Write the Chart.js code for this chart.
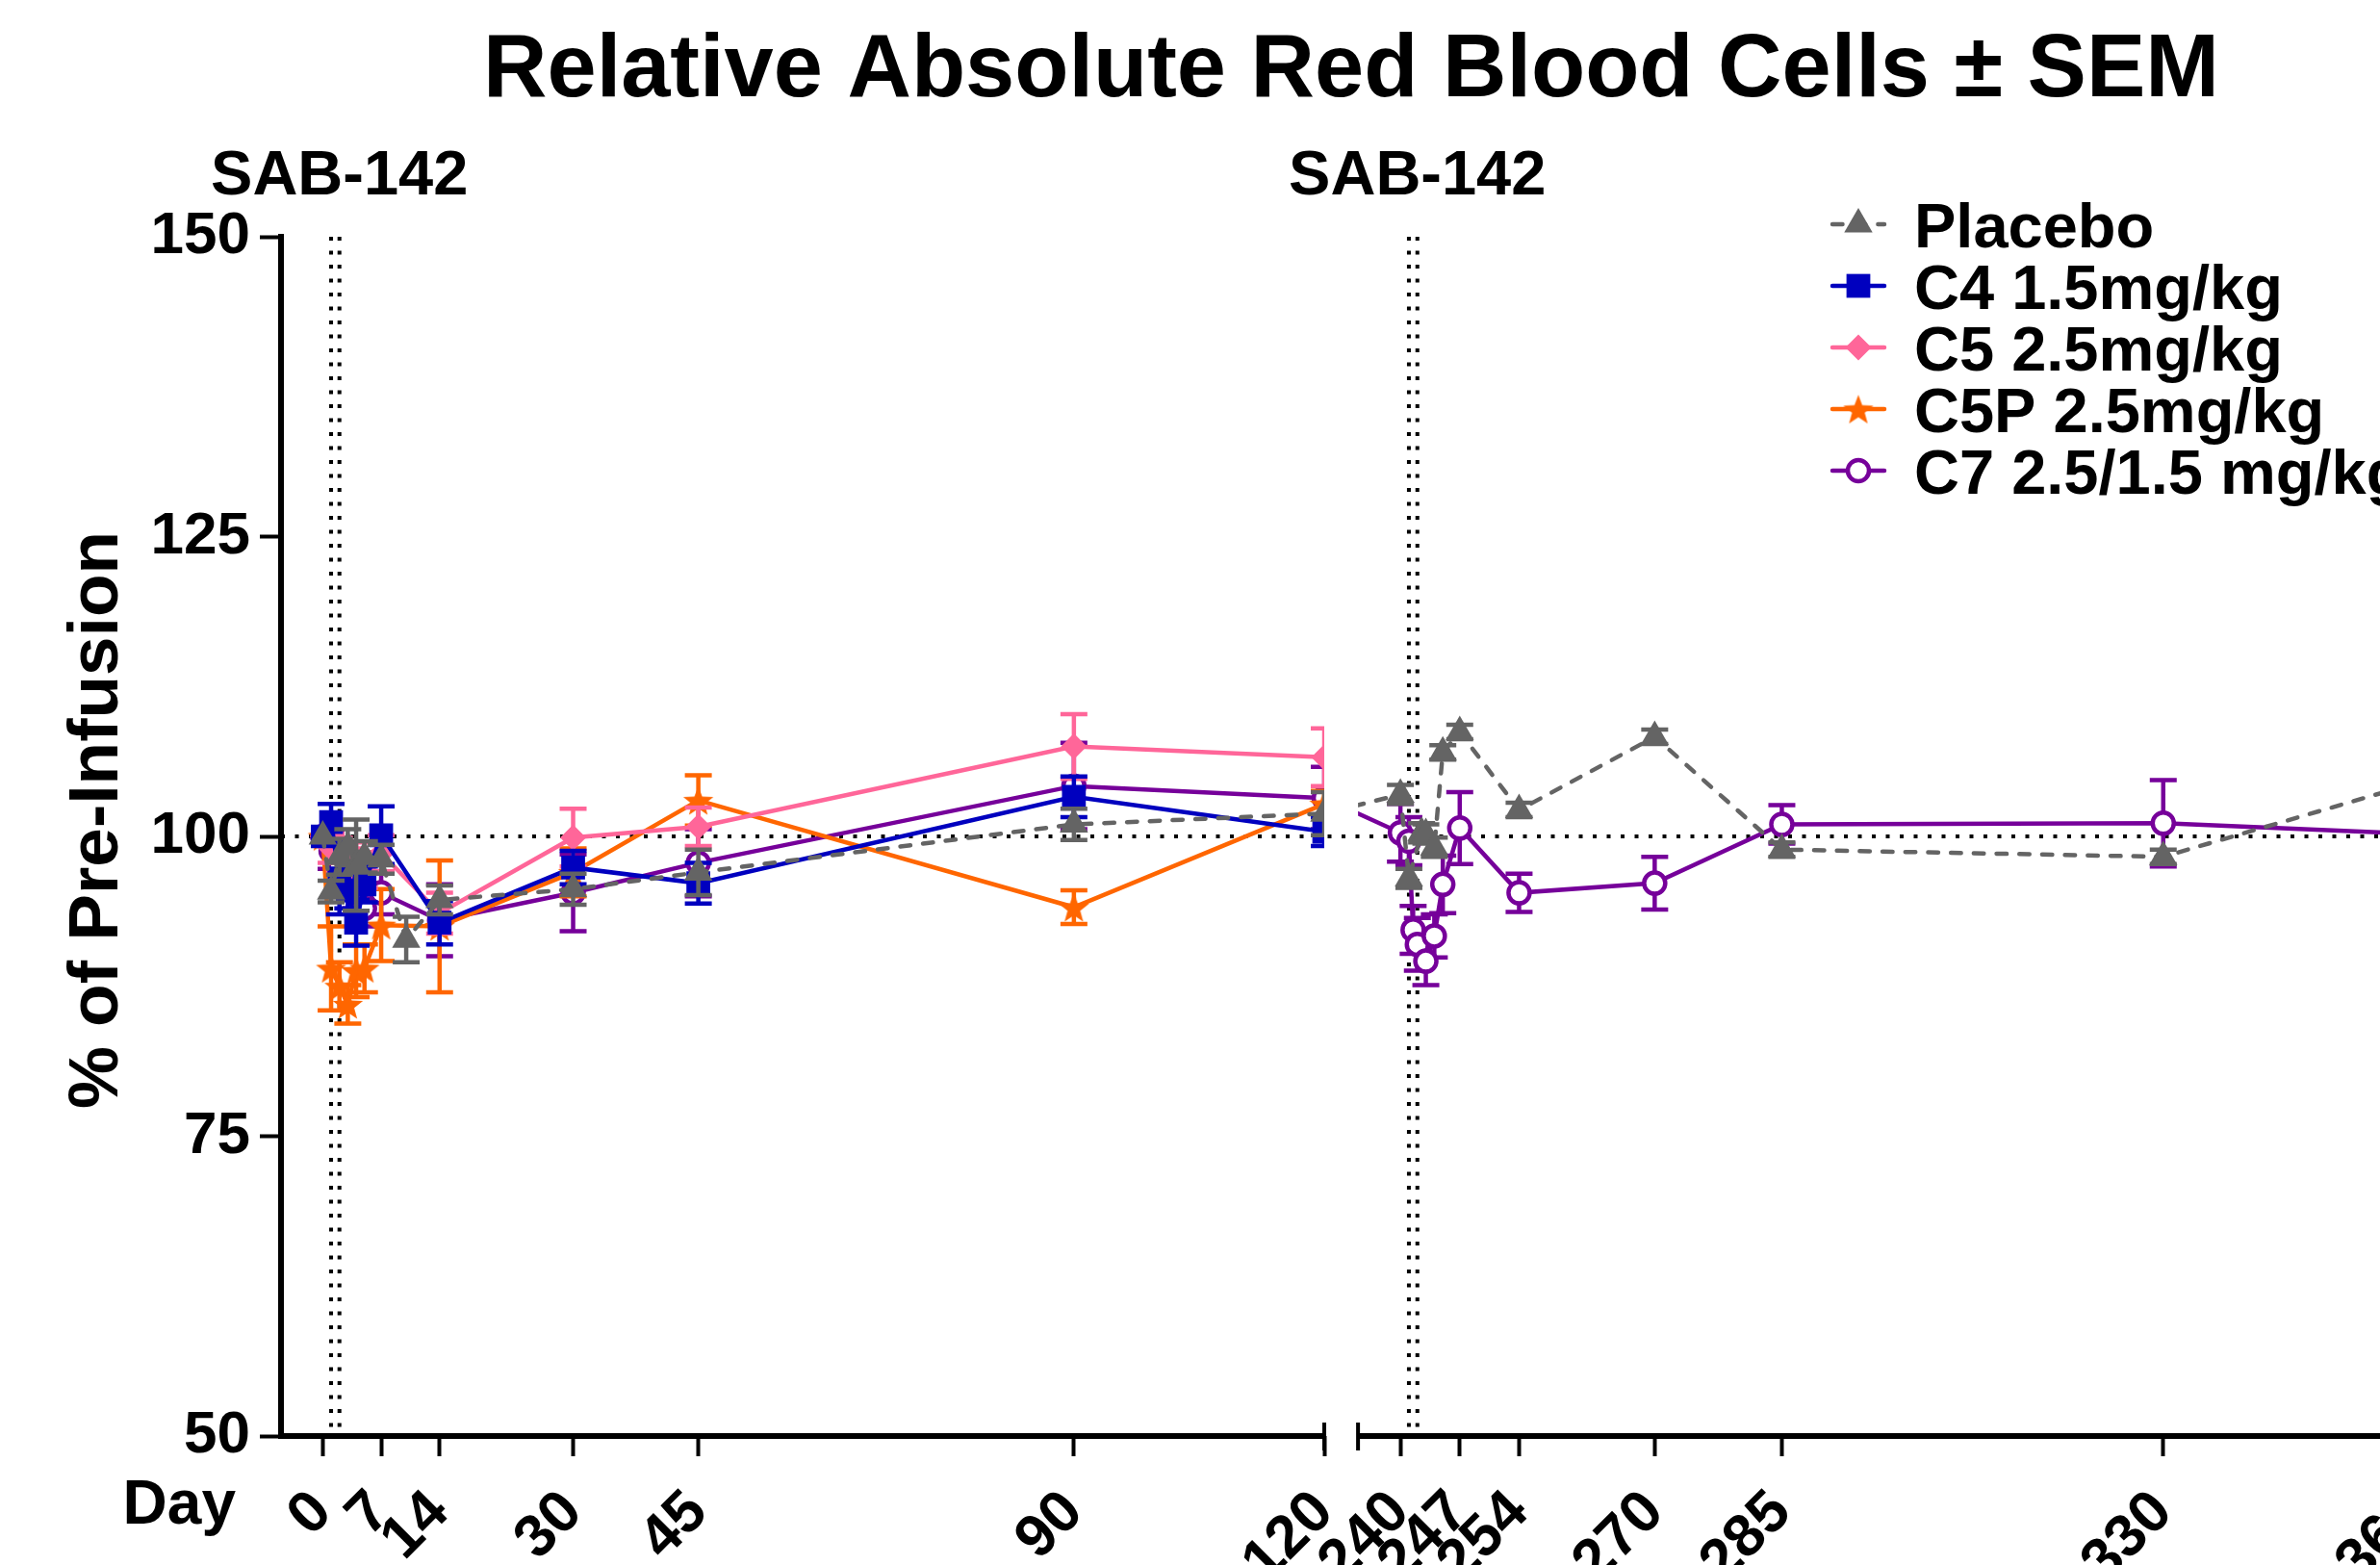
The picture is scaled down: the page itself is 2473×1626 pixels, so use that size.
<!DOCTYPE html>
<html>
<head>
<meta charset="utf-8">
<title>Relative Absolute Red Blood Cells ± SEM</title>
<script src="https://cdn.jsdelivr.net/npm/chart.js@4.4.1/dist/chart.umd.min.js"></script>
<style>
  html, body { margin: 0; padding: 0; background: #fff; overflow: hidden; width: 2473px; height: 1626px; }
  #wrap { position: absolute; left: 0; top: 0; width: 2808px; height: 1720px; }
</style>
</head>
<body>
<div id="wrap"><canvas id="chart" width="2808" height="1720"></canvas></div>
<script>
  // ---- data ----
  const xTicks = [0, 7, 14, 30, 45, 90, 120, 240, 247, 254, 270, 285, 330, 360];
  const infusionDays = [1, 2, 241, 242];
  const sabLabelDays = [2, 242];
  const seriesNames = ["Placebo", "C4 1.5mg/kg", "C5 2.5mg/kg", "C5P 2.5mg/kg", "C7 2.5/1.5 mg/kg"];

  const placeboDays = [0, 1, 2, 3, 4, 5, 7, 10, 14, 30, 45, 90, 120, 240, 241, 242.5, 243, 244, 245, 247, 254, 270, 285, 330, 360];
  const placeboMean = [100, 95.4, 98.3, 99.1, 97.6, 98.3, 98.1, 91.4, 94.7, 95.6, 97.0, 101.0, 101.9, 103.5, 96.5, 100.3, 100.2, 99.1, 107.0, 108.7, 102.2, 108.3, 98.9, 98.3, 104.5];
  const placeboSem = [0, 0.9, 1.5, 1.5, 3.8, 1.3, 1.2, 1.9, 1.2, 1.3, 1.9, 1.3, 1.8, 0.8, 0.8, 0.8, 0.8, 0.8, 0.6, 0.6, 0.6, 0.6, 0.6, 0.6, 0.6];

  const c4Days = [0, 1, 2, 3, 4, 5, 7, 14, 30, 45, 90, 120];
  const c4Mean = [100, 101.2, 96.5, 95.5, 92.8, 96.0, 100.1, 92.8, 97.4, 96.1, 103.3, 100.4];
  const c4Sem = [0, 1.5, 3.0, 1.5, 1.9, 1.5, 2.4, 1.8, 1.4, 1.7, 1.7, 1.2];

  const c5Days = [0, 1, 2, 3, 4, 5, 7, 14, 30, 45, 90, 120];
  const c5Mean = [100, 99.0, 98.5, 97.5, 98.0, 97.2, 98.6, 93.6, 99.9, 100.8, 107.5, 106.6];
  const c5Sem = [0, 1.2, 1.4, 1.5, 1.5, 1.5, 1.5, 1.7, 2.4, 1.6, 2.7, 2.4];

  const c5pDays = [0, 1, 2, 3, 4, 5, 7, 14, 30, 45, 90, 120];
  const c5pMean = [100, 89.0, 87.5, 86.0, 88.8, 89.0, 92.6, 92.5, 97.0, 103.0, 94.1, 102.7];
  const c5pSem = [0, 3.5, 2.0, 1.6, 2.2, 2.0, 3.0, 5.5, 2.0, 2.1, 1.4, 1.1];

  const c7Days = [0, 1, 2, 3, 4, 5, 7, 14, 30, 45, 90, 120, 240, 241, 241.5, 242, 243, 244, 245, 247, 254, 270, 285, 330, 360];
  const c7Mean = [100, 98.8, 97.5, 96.5, 95.5, 94.0, 95.3, 93.0, 95.3, 97.8, 104.2, 103.2, 100.3, 99.6, 92.2, 91.0, 89.6, 91.7, 96.0, 100.7, 95.3, 96.1, 101.0, 101.1, 100.2];
  const c7Sem = [0, 1.5, 1.5, 1.5, 1.5, 1.5, 1.8, 3.0, 3.2, 2.8, 3.6, 2.6, 2.4, 2.0, 2.0, 2.2, 2.0, 1.8, 2.4, 3.0, 1.6, 2.2, 1.6, 3.6, 2.0];

  const series = [
    { days: placeboDays, mean: placeboMean, sem: placeboSem },
    { days: c4Days, mean: c4Mean, sem: c4Sem },
    { days: c5Days, mean: c5Mean, sem: c5Sem },
    { days: c5pDays, mean: c5pMean, sem: c5pSem },
    { days: c7Days, mean: c7Mean, sem: c7Sem },
  ];

  // ---- look ----
  const FONT = "'Liberation Sans', Arial, Helvetica, sans-serif";
  const LINE_W = 4.5;

  function starSprite(color, size) {
    const c = document.createElement("canvas");
    c.width = size; c.height = size;
    const g = c.getContext("2d");
    const cx = size / 2, cy = size / 2 + size * 0.05, ro = size / 2, ri = ro * 0.42;
    g.beginPath();
    for (let i = 0; i < 10; i++) {
      const r = i % 2 ? ri : ro;
      const a = -Math.PI / 2 + i * Math.PI / 5;
      g.lineTo(cx + r * Math.cos(a), cy + r * Math.sin(a));
    }
    g.closePath();
    g.fillStyle = color;
    g.fill();
    return c;
  }

  const styles = [
    { color: "#646464", fill: "#646464", point: "triangle", radius: 17, border: 0, dash: [10.5, 13.2] },
    { color: "#0000BF", fill: "#0000BF", point: "rect", radius: 17.5, border: 0 },
    { color: "#FF6699", fill: "#FF6699", point: "rectRot", radius: 13.5, border: 0 },
    { color: "#FF6600", fill: "#FF6600", point: starSprite("#FF6600", 33), radius: 16, border: 0 },
    { color: "#76009A", fill: "#FFFFFF", point: "circle", radius: 11, border: 4.5 },
  ];

  // broken x axis: -5..120 | gap | 235..360
  const axisStart = -5, breakLow = 120, breakHigh = 235, axisEnd = 360;
  const breakLeft = 0.4883, breakRight = 0.5041;

  class BrokenLinearScale extends Chart.LinearScale {
    static id = "brokenLinear";
    static defaults = Chart.LinearScale.defaults;
    fraction(v) {
      if (v <= breakLow) return (v - axisStart) / (breakLow - axisStart) * breakLeft;
      if (v >= breakHigh) return breakRight + (v - breakHigh) / (axisEnd - breakHigh) * (1 - breakRight);
      return breakLeft + (v - breakLow) / (breakHigh - breakLow) * (breakRight - breakLeft);
    }
    getPixelForValue(v) {
      return this.left + this.fraction(v) * (this.right - this.left);
    }
    getValueForPixel(p) {
      const f = (p - this.left) / (this.right - this.left);
      if (f <= breakLeft) return axisStart + f / breakLeft * (breakLow - axisStart);
      if (f >= breakRight) return breakHigh + (f - breakRight) / (1 - breakRight) * (axisEnd - breakHigh);
      return breakLow + (f - breakLeft) / (breakRight - breakLeft) * (breakHigh - breakLow);
    }
  }
  Chart.register(BrokenLinearScale);

  const errorBars = {
    id: "errorBars",
    beforeDatasetDraw(chart, args) {
      const s = series[args.index];
      const st = styles[args.index];
      const { ctx, scales: { x, y } } = chart;
      ctx.save();
      ctx.strokeStyle = st.color;
      ctx.lineWidth = LINE_W;
      ctx.setLineDash([]);
      ctx.beginPath();
      s.days.forEach((d, j) => {
        if (!s.sem[j]) return;
        const px = x.getPixelForValue(d);
        const top = y.getPixelForValue(s.mean[j] + s.sem[j]);
        const bot = y.getPixelForValue(s.mean[j] - s.sem[j]);
        ctx.moveTo(px, top); ctx.lineTo(px, bot);
        ctx.moveTo(px - 14, top); ctx.lineTo(px + 14, top);
        ctx.moveTo(px - 14, bot); ctx.lineTo(px + 14, bot);
      });
      ctx.stroke();
      ctx.restore();
    },
  };

  const brokenAxis = {
    id: "brokenAxis",
    beforeDatasetsDraw(chart) {
      const { ctx, chartArea: a, scales: { x, y } } = chart;
      ctx.save();
      ctx.strokeStyle = "#000";
      ctx.lineWidth = 4;
      ctx.setLineDash([4, 10.5]);
      ctx.beginPath();
      const y100 = y.getPixelForValue(100);
      ctx.moveTo(a.left, y100); ctx.lineTo(a.right, y100);
      infusionDays.forEach((d) => {
        const px = x.getPixelForValue(d);
        ctx.moveTo(px, a.top); ctx.lineTo(px, a.bottom);
      });
      ctx.stroke();
      ctx.restore();

      // clip the data to the two axis segments
      const gapL = x.getPixelForValue(breakLow), gapR = x.getPixelForValue(breakHigh);
      ctx.save();
      ctx.beginPath();
      ctx.rect(a.left - 40, a.top - 40, gapL - a.left + 40, a.bottom - a.top + 80);
      ctx.rect(gapR, a.top - 40, a.right + 300 - gapR, a.bottom - a.top + 80);
      ctx.clip();
    },
    afterDatasetsDraw(chart) {
      const { ctx, chartArea: a, scales: { x } } = chart;
      ctx.restore();
      const gapL = x.getPixelForValue(breakLow), gapR = x.getPixelForValue(breakHigh);
      ctx.save();
      ctx.strokeStyle = "#000";
      ctx.lineWidth = 6;
      ctx.beginPath();
      ctx.moveTo(a.left - 3, a.bottom); ctx.lineTo(gapL, a.bottom);
      ctx.moveTo(gapR, a.bottom); ctx.lineTo(a.right, a.bottom);
      ctx.stroke();
      ctx.lineWidth = 4;
      ctx.beginPath();
      [gapL, gapR].forEach((px) => { ctx.moveTo(px, a.bottom - 14); ctx.lineTo(px, a.bottom + 15); });
      ctx.stroke();
      ctx.restore();
    },
  };

  const labels = {
    id: "labels",
    afterDraw(chart) {
      const { ctx, chartArea: a, scales: { x } } = chart;
      ctx.save();
      ctx.fillStyle = "#000";
      ctx.textBaseline = "alphabetic";

      ctx.font = "bold 92px " + FONT;
      ctx.textAlign = "center";
      ctx.fillText("Relative Absolute Red Blood Cells ± SEM", 1404, 100);

      ctx.font = "bold 65px " + FONT;
      sabLabelDays.forEach((d) => ctx.fillText("SAB-142", x.getPixelForValue(d), a.top - 44));

      ctx.save();
      ctx.font = "bold 73px " + FONT;
      ctx.translate(a.left - 170, (a.top + a.bottom) / 2 - 17);
      ctx.rotate(-Math.PI / 2);
      ctx.fillText("% of Pre-Infusion", 0, 0);
      ctx.restore();

      ctx.font = "bold 64px " + FONT;
      ctx.textAlign = "right";
      ctx.fillText("Day", a.left - 47, a.bottom + 91);

      // legend: line + marker + name
      const lx = 1904, ly = 233, row = 64;
      ctx.textAlign = "left";
      ctx.font = "bold 65px " + FONT;
      seriesNames.forEach((name, i) => {
        const st = styles[i];
        const cy = ly + i * row;
        ctx.save();
        ctx.strokeStyle = st.color;
        ctx.lineWidth = LINE_W;
        ctx.lineCap = "round";
        ctx.setLineDash(st.dash || []);
        ctx.beginPath();
        ctx.moveTo(lx, cy); ctx.lineTo(lx + 54, cy);
        ctx.stroke();
        ctx.setLineDash([]);
        ctx.fillStyle = st.fill;
        ctx.lineWidth = st.border;
        Chart.helpers.drawPoint(ctx, { pointStyle: st.point, radius: st.radius, borderWidth: st.border, rotation: 0 }, lx + 27, cy);
        ctx.restore();
        ctx.fillText(name, lx + 85, cy + 24);
      });
      ctx.restore();
    },
  };

  const datasets = seriesNames.map((name, i) => {
    const s = series[i], st = styles[i];
    return {
      label: name,
      data: s.days.map((d, j) => ({ x: d, y: s.mean[j] })),
      borderColor: st.color,
      borderWidth: LINE_W,
      borderDash: st.dash || [],
      borderCapStyle: st.dash ? "round" : "butt",
      pointStyle: st.point,
      pointRadius: st.radius,
      pointBackgroundColor: st.fill,
      pointBorderColor: st.color,
      pointBorderWidth: st.border,
      tension: 0,
      clip: false,
    };
  });

  new Chart(document.getElementById("chart"), {
    type: "line",
    data: { datasets },
    plugins: [brokenAxis, errorBars, labels],
    options: {
      responsive: false,
      animation: false,
      events: [],
      layout: { padding: { left: 0, top: 246, right: 296, bottom: 0 } },
      font: { family: FONT },
      plugins: {
        legend: { display: false },
        tooltip: { enabled: false },
        title: { display: false },
      },
      scales: {
        x: {
          type: "brokenLinear",
          min: axisStart,
          max: axisEnd,
          afterBuildTicks: (scale) => { scale.ticks = xTicks.map((v) => ({ value: v })); },
          afterFit: (scale) => { scale.height = 228; },
          border: { display: false },
          grid: { drawOnChartArea: false, drawTicks: true, tickLength: 21, tickWidth: 4, tickColor: "#000" },
          ticks: {
            autoSkip: false,
            minRotation: 45,
            maxRotation: 45,
            padding: 22,
            color: "#000",
            font: { family: FONT, size: 62, weight: "bold" },
            callback: (v) => String(v),
          },
        },
        y: {
          min: 50,
          max: 150,
          afterFit: (scale) => { scale.width = 292; },
          border: { display: true, width: 6, color: "#000" },
          grid: { drawOnChartArea: false, drawTicks: true, tickLength: 22, tickWidth: 4, tickColor: "#000" },
          ticks: {
            stepSize: 25,
            padding: 10,
            color: "#000",
            font: { family: FONT, size: 62, weight: "bold" },
          },
        },
      },
    },
  });
</script>
</body>
</html>
